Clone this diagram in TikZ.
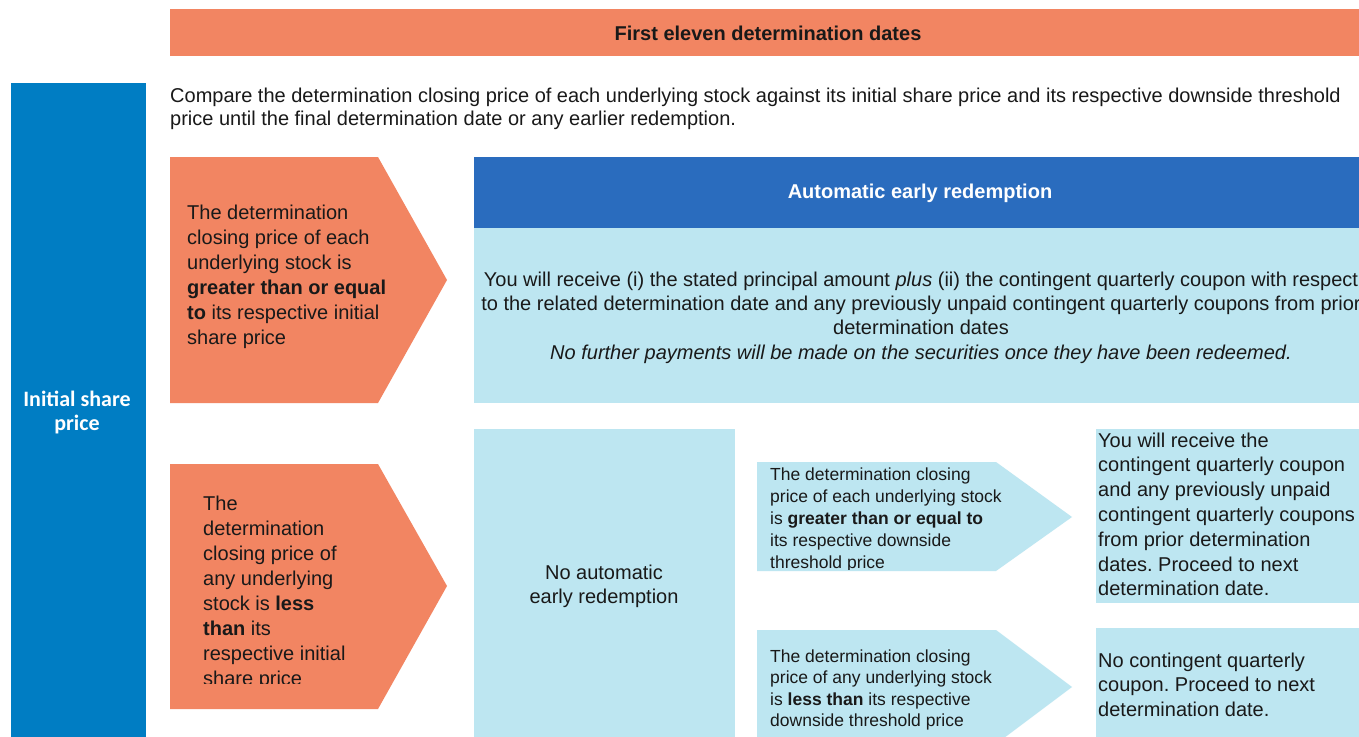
\documentclass[tikz,border=0pt]{standalone}
\usepackage{fontspec}
\setmainfont{Liberation Sans}
\newfontfamily\carlito{Carlito}
\usepackage{xcolor}
\definecolor{naranja}{RGB}{242,133,98}
\definecolor{azul}{RGB}{0,125,195}
\definecolor{azuloscuro}{RGB}{42,108,190}
\definecolor{celeste}{RGB}{189,230,241}
\definecolor{texto}{RGB}{25,25,25}
\frenchspacing
\tikzset{
  txt/.style={inner sep=0pt, anchor=north west, align=left, text=texto,
    font=\fontsize{20}{25}\selectfont},
  txtchico/.style={txt, font=\fontsize{17.5}{22}\selectfont},
  titulo/.style={inner sep=0pt, text=white, font=\bfseries\fontsize{20}{24}\selectfont}
}

\begin{document}
\begin{tikzpicture}[x=1pt,y=-1pt]
        \clip (0,0) rectangle (1359,736);
        \fill[white] (0,0) rectangle (1359,736);
        % barra superior
        \fill[naranja] (170,9) rectangle (1359,56);
        \node[titulo, text=texto] (fechas) at (768,33) {First eleven determination dates};
        % barra izquierda
        \fill[azul] (11,83) rectangle (146,740);
        \node[titulo, align=center, font=\carlito\bfseries\fontsize{22}{24}\selectfont] (inicial) at (77,412) {Initial share\\price};
        \node[txt, font=\fontsize{20}{23.5}\selectfont] (comparar) at (170,87.8) {Compare the determination closing price of each underlying stock against its initial share price and its respective downside threshold\\price until the final determination date or any earlier redemption.};
        % flechas naranjas
        \fill[naranja] (170,157) -- (378,157) -- (447,280) -- (378,403) -- (170,403) -- cycle;
        \node[txt] (mayor) at (187,204.4) {The determination\\closing price of each\\underlying stock is\\\textbf{greater than or equal}\\\textbf{to} its respective initial\\share price};
        \fill[naranja] (170,464) -- (378,464) -- (447,586) -- (378,709) -- (170,709) -- cycle;
        \begin{scope}
        \clip (170,464) rectangle (447,683);
        \node[txt] (menor) at (203,495.4) {The\\determination\\closing price of\\any underlying\\stock is \textbf{less}\\\textbf{than} its\\respective initial\\share price};
        \end{scope}
        % redencion anticipada
        \fill[azuloscuro] (474,157) rectangle (1359,228);
        \node[titulo] (automatica) at (920,193) {Automatic early redemption};
        \fill[celeste] (474,228) rectangle (1359,403);
        \node[txt, anchor=north, align=center, font=\fontsize{20}{24.4}\selectfont] (recibe) at (921,271.4) {You will receive (i) the stated principal amount \textit{plus} (ii) the contingent quarterly coupon with respect\\to the related determination date and any previously unpaid contingent quarterly coupons from prior\\determination dates\\\textit{No further payments will be made on the securities once they have been redeemed.}};
        % sin redencion
        \fill[celeste] (474,429) rectangle (735,740);
        \node[txt, anchor=center, align=center, font=\fontsize{20}{24}\selectfont] (sinredencion) at (604,586) {No automatic\\early redemption};
        % flechas celestes
        \fill[celeste] (757,462) -- (996,462) -- (1072,517) -- (996,571) -- (757,571) -- cycle;
        \begin{scope}
        \clip (757,462) rectangle (1072,569);
        \node[txtchico] (umbralmayor) at (770,467.2) {The determination closing\\price of each underlying stock\\is \textbf{greater than or equal to}\\its respective downside\\threshold price};
        \end{scope}
        \fill[celeste] (757,630) -- (996,630) -- (1072,687) -- (996,744) -- (757,744) -- cycle;
        \node[txtchico, font=\fontsize{17.5}{21.5}\selectfont] (umbralmenor) at (770,649.2) {The determination closing\\price of any underlying stock\\is \textbf{less than} its respective\\downside threshold price};
        % resultados
        \fill[celeste] (1096,429) rectangle (1359,603);
        \node[txt, font=\fontsize{20}{24.8}\selectfont] (cupon) at (1098,432.4) {You will receive the\\contingent quarterly coupon\\and any previously unpaid\\contingent quarterly coupons\\from prior determination\\dates. Proceed to next\\determination date.};
        \fill[celeste] (1096,628) rectangle (1359,740);
        \node[txt, font=\fontsize{20}{24.5}\selectfont] (sincupon) at (1098,652.4) {No contingent quarterly\\coupon. Proceed to next\\determination date.};
\end{tikzpicture}
\end{document}
